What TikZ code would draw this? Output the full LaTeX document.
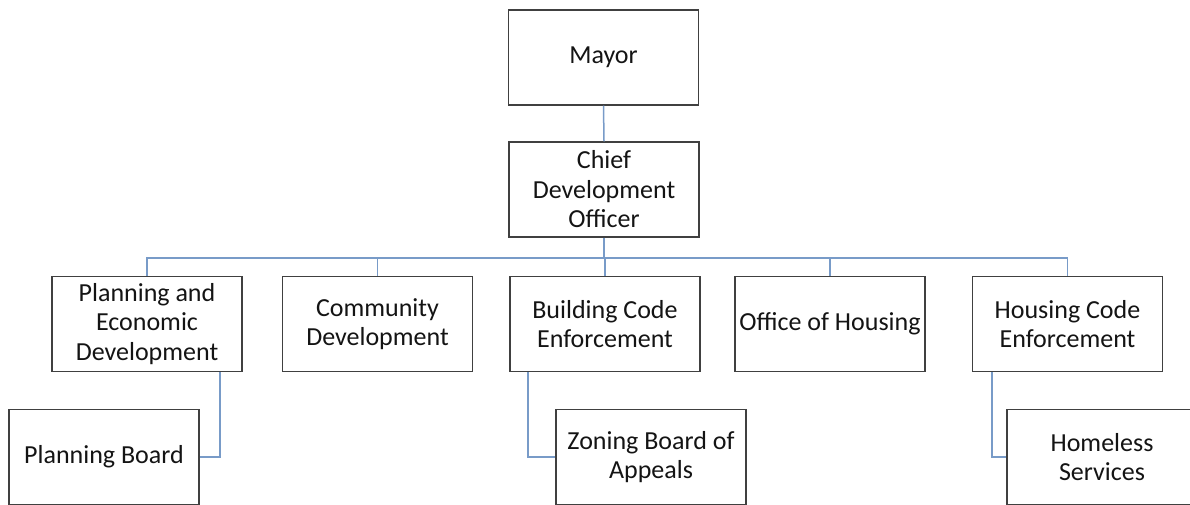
\documentclass[tikz,border=0pt]{standalone}
\usepackage{fontspec}
\setmainfont{Carlito}
\definecolor{boxline}{RGB}{64,64,64}
\definecolor{conn}{RGB}{120,155,200}
\definecolor{txt}{RGB}{20,20,20}
\tikzset{
  orgbox/.style={draw=boxline, line width=1.3pt, fill=white, minimum width=190pt, minimum height=95pt,
    inner sep=0pt, align=center, text=txt, font=\fontsize{26}{29.5}\selectfont},
  link/.style={draw=conn, line width=1.5pt}
}
\begin{document}
\begin{tikzpicture}[x=1pt,y=-1pt]
\useasboundingbox (0,0) rectangle (1190,504);
\clip (0,0) rectangle (1190,504);
\coordinate (bar) at (0,258);
\node[orgbox] (mayor) at (603.5,57.5) {Mayor};
\node[orgbox] (cdo) at (604,189.5) {Chief\\Development\\Officer};
\node[orgbox] (ped) at (147,324) {Planning and\\Economic\\Development};
\node[orgbox] (cd) at (377.5,324) {Community\\Development};
\node[orgbox] (bce) at (605,324) {Building Code\\Enforcement};
\node[orgbox] (oh) at (830,324) {Office of Housing};
\node[orgbox] (hce) at (1067.5,324) {Housing Code\\Enforcement};
\node[orgbox] (pb) at (104,457) {Planning Board};
\node[orgbox] (zba) at (651,457) {Zoning Board of\\Appeals};
\node[orgbox] (hs) at (1102,457) {Homeless\\Services};
\draw[link] (mayor.south) -- (cdo.north);
\draw[link] (cdo.south) -- (cdo.south |- bar);
\draw[link] (ped.north) |- (bar -| hce.north) -- (hce.north);
\draw[link] (cd.north) -- (cd.north |- bar);
\draw[link] (bce.north) -- (bce.north |- bar);
\draw[link] (oh.north) -- (oh.north |- bar);
\draw[link] ([xshift=73pt]ped.south) |- (pb.east);
\draw[link] ([xshift=-77pt]bce.south) |- (zba.west);
\draw[link] ([xshift=-75.5pt]hce.south) |- (hs.west);
\end{tikzpicture}
\end{document}
